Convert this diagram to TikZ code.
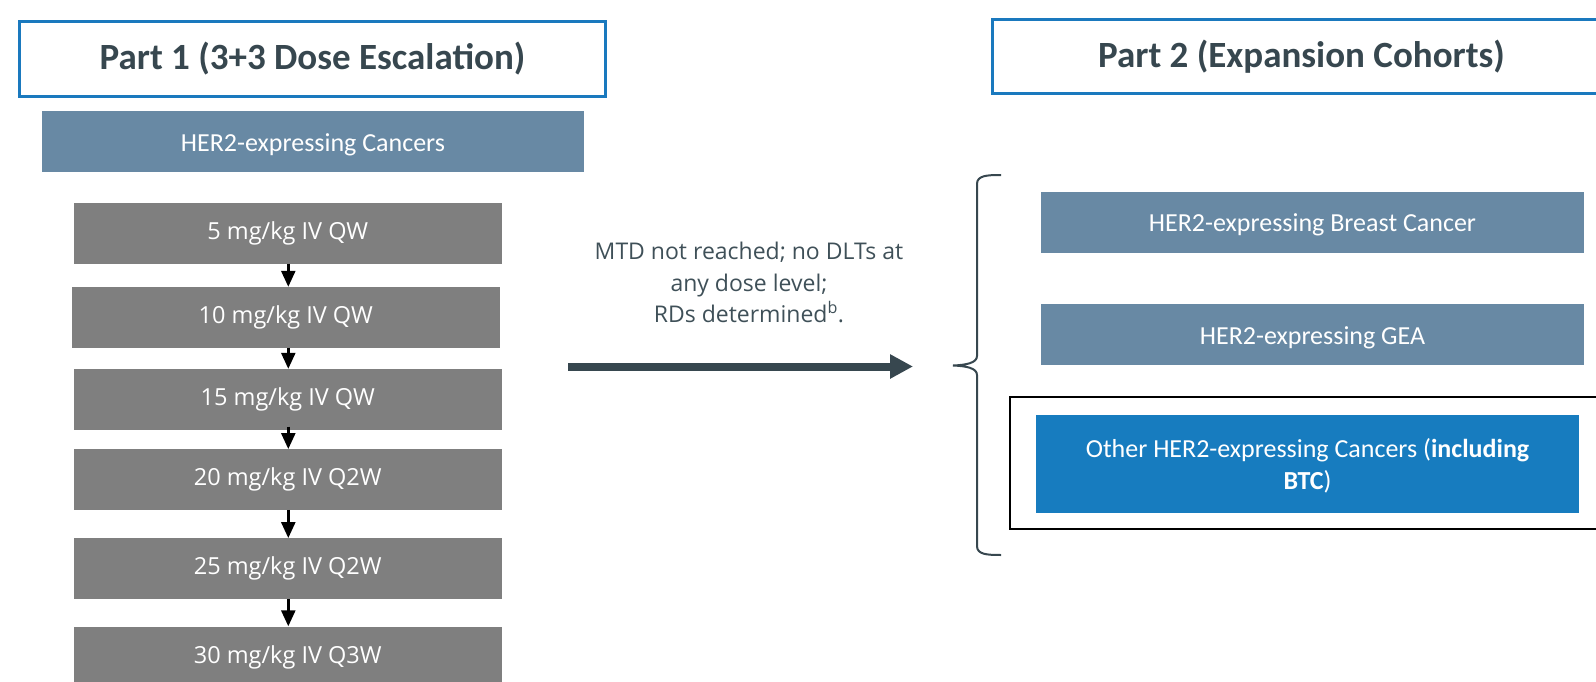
\documentclass[tikz,border=0pt]{standalone}
\usepackage{fontspec}
\setmainfont{Carlito}
\newfontfamily\osans{Open Sans}
\usetikzlibrary{arrows.meta}
\definecolor{slate}{RGB}{55,71,79}
\definecolor{slatetext}{RGB}{63,80,88}
\definecolor{steel}{RGB}{104,137,164}
\definecolor{brightblue}{RGB}{23,124,191}
\definecolor{partblue}{RGB}{26,121,190}
\definecolor{dosegray}{RGB}{127,127,127}
\tikzset{
  partbox/.style={draw=partblue, line width=3pt, fill=white, inner sep=0pt, text=slate,
    font=\fontsize{37}{44}\selectfont\bfseries},
  steelbox/.style={fill=steel, inner sep=0pt, text=white, minimum width=543pt,
    minimum height=61pt, text height=24pt, text depth=4.6pt,
    font=\fontsize{26}{32}\selectfont},
  dosebox/.style={fill=dosegray, inner sep=0pt, text=white, minimum width=428.5pt,
    minimum height=60.5pt, font=\osans\fontsize{23.5}{30}\selectfont},
  dosearrow/.style={line width=2.5pt, -{Triangle[width=14pt,length=16pt]}},
  mainarrow/.style={draw=slate, line width=8pt, -{Triangle[width=23pt,length=23pt]}},
  bracepath/.style={draw=slate, line width=2pt},
}
\begin{document}
\begin{tikzpicture}[x=1pt,y=-1pt]
\useasboundingbox (0,0) rectangle (1596,682);
\clip (0,0) rectangle (1596,682);
% Part 1
\node[partbox, minimum width=586pt, minimum height=75pt] (p1) at (312.5,59) {Part 1 (3+3 Dose Escalation)};
\node[steelbox, minimum width=542pt] (her) at (313,141.5) {HER2-expressing Cancers};
\node[dosebox] (d1) at (287.75,233.25) {5 mg/kg IV QW};
\node[dosebox] (d2) at (285.75,317.25) {10 mg/kg IV QW};
\node[dosebox] (d3) at (287.75,399.25) {15 mg/kg IV QW};
\node[dosebox] (d4) at (287.75,479.5) {20 mg/kg IV Q2W};
\node[dosebox] (d5) at (287.75,568.5) {25 mg/kg IV Q2W};
\node[dosebox, minimum height=61pt] (d6) at (287.75,657) {30 mg/kg IV Q3W};
\draw[dosearrow] (d1.south -| 288.3,0) -- (d2.north -| 288.3,0);
\draw[dosearrow] (d2.south -| 288.3,0) -- (d3.north -| 288.3,0);
\draw[dosearrow] ([yshift=3pt]d3.south -| 288.3,0) -- (d4.north -| 288.3,0);
\draw[dosearrow] (d4.south -| 288.3,0) -- (d5.north -| 288.3,0);
\draw[dosearrow] (d5.south -| 288.3,0) -- (d6.north -| 288.3,0);
% middle
\node[align=center, text=slatetext, font=\osans\fontsize{23}{31.5}\selectfont] (mtd) at (749,282.5)
  {MTD not reached; no DLTs at\\any dose level;\\RDs determined\textsuperscript{b}.};
\coordinate (as) at (568,366.5);
\coordinate (ae) at (913,366.5);
\draw[mainarrow] (as) -- (ae);
% brace
\draw[bracepath] (1001,175) .. controls (987,175) and (977,175.5) .. (977,184)
  -- (977,356) .. controls (977,363) and (966,365) .. (953,365.5)
  .. controls (966,366) and (977,368) .. (977,375)
  -- (977,546) .. controls (977,554.5) and (987,555) .. (1001,555);
% Part 2
\node[partbox, minimum width=618pt, minimum height=74pt] (p2) at (1301.5,56.5) {Part 2 (Expansion Cohorts)};
\node[steelbox] (bc) at (1312.5,222) {HER2-expressing Breast Cancer};
\node[steelbox] (gea) at (1312.5,334.5) {HER2-expressing GEA};
\node[draw=black, line width=2.5pt, minimum width=610pt, minimum height=132pt, inner sep=0pt] (other) at (1315,463) {};
\node[fill=brightblue, text=white, minimum width=543pt, minimum height=98pt, inner sep=0pt,
  text depth=-1pt, align=center, font=\fontsize{26}{32}\selectfont] (btc) at (1307.5,464)
  {Other HER2-expressing Cancers (\textbf{including}\\\textbf{BTC})};
\end{tikzpicture}
\end{document}
